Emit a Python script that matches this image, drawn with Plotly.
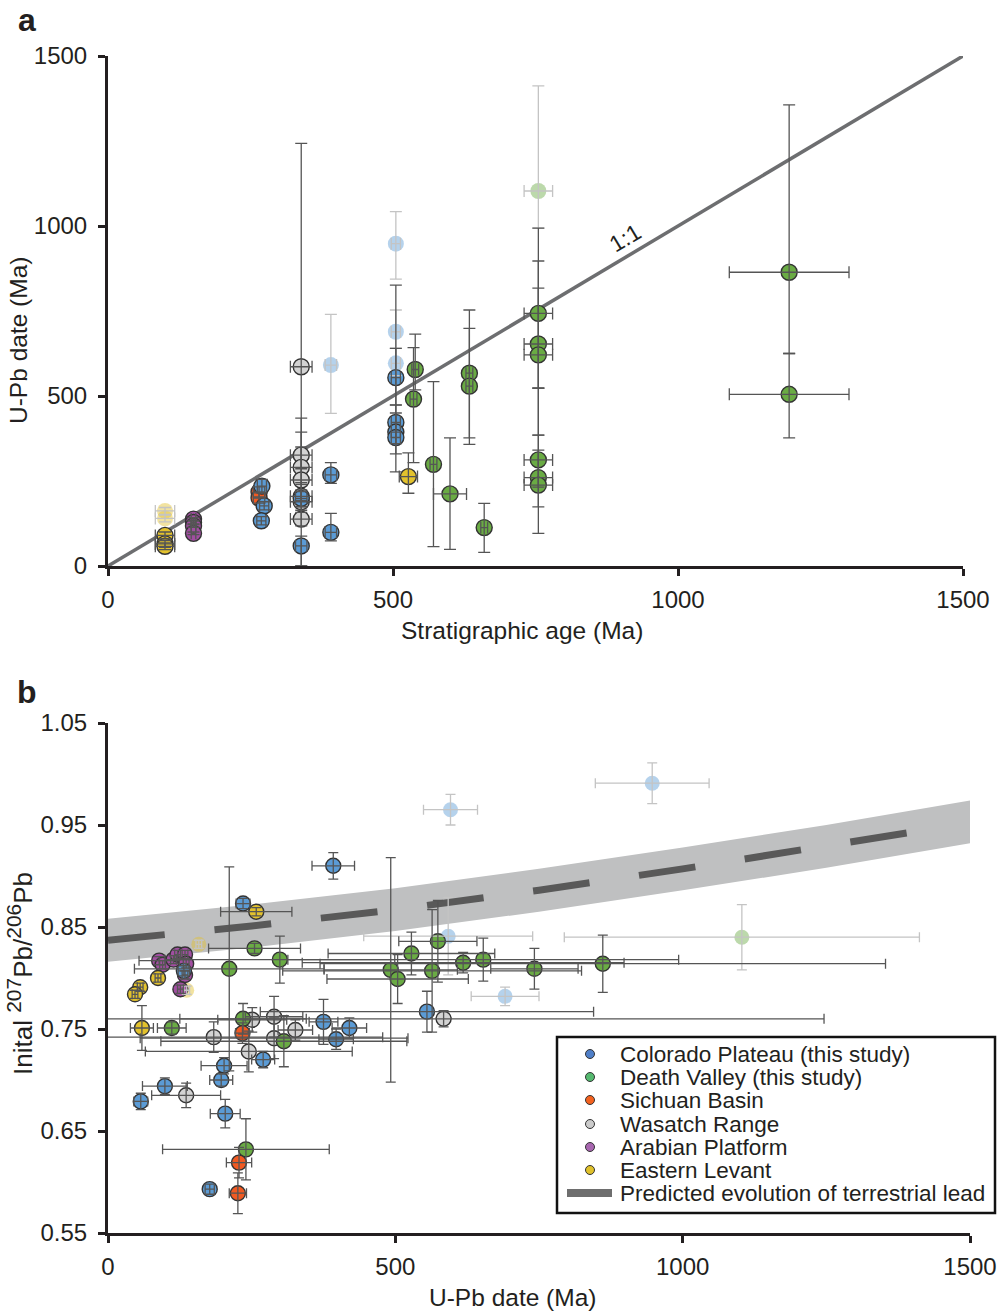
import plotly.graph_objects as go

# ---------------- panel a: stratigraphic age vs U-Pb date ----------------
ONE_X = [0, 1500]
ONE_Y = [0, 1500]

# Colorado Plateau (this study)
A_CP_X = [270, 274, 269, 339, 339, 391, 391, 505, 505, 505, 505]
A_CP_Y = [235, 177, 133, 199, 59, 268, 99, 554, 422, 394, 378]
A_CP_XE = [8, 8, 8, 10, 10, 10, 10, 8, 8, 8, 8]
A_CP_YP = [20, 12, 12, 25, 29, 36, 56, 272, 218, 56, 95]
A_CP_YM = [20, 12, 12, 25, 59, 25, 25, 80, 62, 64, 101]
A_CP_OUT_X = [391, 505, 505, 505]
A_CP_OUT_Y = [591, 948, 689, 596]
A_CP_OUT_XE = [10, 8, 8, 8]
A_CP_OUT_YP = [149, 94, 64, 44]
A_CP_OUT_YM = [142, 104, 49, 36]

# Death Valley (this study)
A_DV_X = [539, 536, 571, 600, 660, 634, 634, 755, 755, 755, 755, 755, 755, 1195, 1195]
A_DV_Y = [578, 491, 299, 212, 113, 567, 529, 743, 653, 621, 312, 260, 238, 864, 505]
A_DV_XE = [6, 6, 6, 29, 6, 6, 6, 25, 25, 25, 25, 25, 25, 105, 105]
A_DV_YP = [104, 151, 243, 165, 71, 186, 170, 251, 244, 196, 211, 125, 103, 492, 120]
A_DV_YM = [60, 187, 242, 163, 73, 190, 171, 220, 130, 236, 80, 86, 142, 239, 128]
A_DV_OUT_X = [755]
A_DV_OUT_Y = [1103]
A_DV_OUT_XE = [25]
A_DV_OUT_YP = [309]
A_DV_OUT_YM = [109]

# Sichuan Basin
A_SB_X = [265, 265]
A_SB_Y = [218, 200]
A_SB_XE = [10, 10]
A_SB_YP = [15, 15]
A_SB_YM = [15, 15]

# Wasatch Range
A_WR_X = [339, 339, 339, 339, 339, 339, 339]
A_WR_Y = [586, 326, 290, 253, 205, 189, 138]
A_WR_XE = [19, 19, 19, 19, 19, 19, 19]
A_WR_YP = [657, 109, 104, 97, 40, 30, 20]
A_WR_YM = [586, 40, 50, 60, 30, 25, 20]

# Arabian Platform
A_AP_X = [150, 150, 150, 150]
A_AP_Y = [138, 128, 118, 96]
A_AP_XE = [4, 4, 4, 4]
A_AP_YP = [4, 4, 4, 4]
A_AP_YM = [4, 4, 4, 4]

# Eastern Levant
A_EL_X = [100, 100, 100, 527]
A_EL_Y = [90, 65, 58, 263]
A_EL_XE = [17, 17, 17, 16]
A_EL_YP = [10, 10, 10, 70]
A_EL_YM = [10, 10, 10, 49]
A_EL_OUT_X = [100, 100]
A_EL_OUT_Y = [162, 140]
A_EL_OUT_XE = [17, 17]
A_EL_OUT_YP = [10, 10]
A_EL_OUT_YM = [10, 10]

# ---------------- panel b: U-Pb date vs initial 207Pb/206Pb ----------------
EVO_X = [0, 250, 500, 750, 1000, 1250, 1500]
EVO_Y = [0.837, 0.851, 0.867, 0.886, 0.907, 0.929, 0.953]
EVO_HALF = 0.021
DASH_X = [0, 250, 500, 750, 1000, 1250, 1410]
DASH_Y = [0.837, 0.851, 0.867, 0.886, 0.907, 0.929, 0.944]

B_CP_X = [392, 235, 132, 375, 397, 420, 270, 202, 197, 99, 57, 204, 177, 555]
B_CP_Y = [0.910, 0.873, 0.807, 0.757, 0.740, 0.751, 0.720, 0.714, 0.700, 0.694, 0.679, 0.667, 0.593, 0.767]
B_CP_XE = [37, 12, 10, 25, 30, 30, 20, 40, 20, 39, 12, 26, 8, 290]
B_CP_YE = [0.013, 0.005, 0.005, 0.022, 0.010, 0.010, 0.008, 0.008, 0.006, 0.008, 0.008, 0.014, 0.005, 0.020]
B_CP_OUT_X = [596, 947, 592, 691]
B_CP_OUT_Y = [0.965, 0.991, 0.841, 0.782]
B_CP_OUT_XE = [47, 99, 147, 59]
B_CP_OUT_YE = [0.015, 0.020, 0.038, 0.009]

B_DV_X = [255, 299, 211, 235, 111, 306, 240, 492, 504, 528, 574, 564, 618, 653, 742, 861]
B_DV_Y = [0.829, 0.818, 0.809, 0.760, 0.751, 0.738, 0.632, 0.808, 0.799, 0.824, 0.836, 0.807, 0.815, 0.818, 0.809, 0.814]
B_DV_XE = [80, 200, 165, 110, 25, 214, 145, 116, 123, 145, 68, 260, 280, 340, 76, 492]
B_DV_YE = [0.005, 0.023, 0.100, 0.015, 0.006, 0.025, 0.030, 0.110, 0.024, 0.021, 0.040, 0.060, 0.010, 0.021, 0.020, 0.028]
B_DV_OUT_X = [1103]
B_DV_OUT_Y = [0.840]
B_DV_OUT_XE = [309]
B_DV_OUT_YE = [0.032]

B_SB_X = [234, 228, 226]
B_SB_Y = [0.746, 0.619, 0.589]
B_SB_XE = [12, 22, 15]
B_SB_YE = [0.010, 0.015, 0.020]

B_WR_X = [184, 251, 289, 326, 289, 245, 136, 584]
B_WR_Y = [0.742, 0.759, 0.762, 0.749, 0.741, 0.728, 0.685, 0.760]
B_WR_XE = [294, 60, 50, 30, 233, 180, 60, 662]
B_WR_YE = [0.015, 0.012, 0.020, 0.010, 0.020, 0.020, 0.012, 0.008]

B_AP_X = [89, 95, 114, 121, 134, 136, 134, 126]
B_AP_Y = [0.817, 0.813, 0.818, 0.823, 0.823, 0.814, 0.803, 0.789]
B_AP_XE = [35, 5, 5, 5, 5, 5, 5, 5]
B_AP_YE = [0.004, 0.004, 0.004, 0.004, 0.004, 0.004, 0.004, 0.004]

B_EL_X = [258, 87, 56, 47, 59]
B_EL_Y = [0.865, 0.800, 0.791, 0.784, 0.751]
B_EL_XE = [62, 5, 5, 5, 20]
B_EL_YE = [0.004, 0.004, 0.004, 0.004, 0.022]
B_EL_OUT_X = [158, 137]
B_EL_OUT_Y = [0.833, 0.788]
B_EL_OUT_XE = [5, 5]
B_EL_OUT_YE = [0.004, 0.004]

LEGEND_NAMES = [
    "Colorado Plateau (this study)",
    "Death Valley (this study)",
    "Sichuan Basin",
    "Wasatch Range",
    "Arabian Platform",
    "Eastern Levant",
]
LEGEND_COLORS = ["#4f7fc8", "#55b96f", "#f4621f", "#cbcbcb", "#a866b0", "#e0c12b"]
EVO_NAME = "Predicted evolution of terrestrial lead"

BLUE = "#5b9bd5"
GREEN = "#6aab44"
ORANGE = "#f15a22"
GRAY = "#d3d3d3"
PURPLE = "#a14ea1"
YELLOW = "#e3c22d"

FONT = "Liberation Sans, Arial, sans-serif"
INK = "#231f20"
W, H = 1000, 1313

fig = go.Figure()
bars = []


def add_group(xa, ya, xs, ys, xe, yp, ym, color, size, faded=False, cap=6):
    fig.add_trace(go.Scatter(
        x=xs, y=ys, xaxis=xa, yaxis=ya, mode="markers", showlegend=False,
        marker=dict(size=size, color=color, opacity=0.45 if faded else 1,
                    line=dict(width=0 if faded else 1.4, color="#333333")),
    ))
    # error bars go in a separate trace so they sit on top of every marker
    ecol = "#c4c4c4" if faded else "#555555"
    bars.append(go.Scatter(
        x=xs, y=ys, xaxis=xa, yaxis=ya, mode="markers", showlegend=False,
        marker=dict(size=1, opacity=0), hoverinfo="skip",
        error_x=dict(type="data", array=xe, color=ecol, thickness=1.3, width=cap),
        error_y=dict(type="data", array=yp, arrayminus=ym, symmetric=False,
                     color=ecol, thickness=1.3, width=cap),
    ))


# panel a
fig.add_trace(go.Scatter(x=ONE_X, y=ONE_Y, xaxis="x", yaxis="y", mode="lines",
                         line=dict(color="#6d6e70", width=3.5), showlegend=False))
sa = 16
add_group("x", "y", A_EL_OUT_X, A_EL_OUT_Y, A_EL_OUT_XE, A_EL_OUT_YP, A_EL_OUT_YM, YELLOW, sa, True)
add_group("x", "y", A_CP_OUT_X, A_CP_OUT_Y, A_CP_OUT_XE, A_CP_OUT_YP, A_CP_OUT_YM, BLUE, sa, True)
add_group("x", "y", A_DV_OUT_X, A_DV_OUT_Y, A_DV_OUT_XE, A_DV_OUT_YP, A_DV_OUT_YM, GREEN, sa, True)
add_group("x", "y", A_EL_X, A_EL_Y, A_EL_XE, A_EL_YP, A_EL_YM, YELLOW, sa)
add_group("x", "y", A_AP_X, A_AP_Y, A_AP_XE, A_AP_YP, A_AP_YM, PURPLE, sa)
add_group("x", "y", A_WR_X, A_WR_Y, A_WR_XE, A_WR_YP, A_WR_YM, GRAY, sa)
add_group("x", "y", A_SB_X, A_SB_Y, A_SB_XE, A_SB_YP, A_SB_YM, ORANGE, sa)
add_group("x", "y", A_CP_X, A_CP_Y, A_CP_XE, A_CP_YP, A_CP_YM, BLUE, sa)
add_group("x", "y", A_DV_X, A_DV_Y, A_DV_XE, A_DV_YP, A_DV_YM, GREEN, sa)

# panel b: evolution band and dashed curve
fig.add_trace(go.Scatter(
    x=EVO_X + EVO_X[::-1],
    y=[v + EVO_HALF for v in EVO_Y] + [v - EVO_HALF for v in EVO_Y[::-1]],
    xaxis="x2", yaxis="y2", mode="lines", fill="toself", fillcolor="#bfc0c1",
    line=dict(width=0), showlegend=False, hoverinfo="skip"))
fig.add_trace(go.Scatter(x=DASH_X, y=DASH_Y, xaxis="x2", yaxis="y2", mode="lines",
                         line=dict(color="#595959", width=7, dash="57px,50px"),
                         showlegend=False))
sb = 15
add_group("x2", "y2", B_EL_OUT_X, B_EL_OUT_Y, B_EL_OUT_XE, B_EL_OUT_YE, B_EL_OUT_YE, YELLOW, sb, True, 5)
add_group("x2", "y2", B_CP_OUT_X, B_CP_OUT_Y, B_CP_OUT_XE, B_CP_OUT_YE, B_CP_OUT_YE, BLUE, sb, True, 5)
add_group("x2", "y2", B_DV_OUT_X, B_DV_OUT_Y, B_DV_OUT_XE, B_DV_OUT_YE, B_DV_OUT_YE, GREEN, sb, True, 5)
add_group("x2", "y2", B_WR_X, B_WR_Y, B_WR_XE, B_WR_YE, B_WR_YE, GRAY, sb, cap=5)
add_group("x2", "y2", B_AP_X, B_AP_Y, B_AP_XE, B_AP_YE, B_AP_YE, PURPLE, sb, cap=5)
add_group("x2", "y2", B_EL_X, B_EL_Y, B_EL_XE, B_EL_YE, B_EL_YE, YELLOW, sb, cap=5)
add_group("x2", "y2", B_DV_X, B_DV_Y, B_DV_XE, B_DV_YE, B_DV_YE, GREEN, sb, cap=5)
add_group("x2", "y2", B_SB_X, B_SB_Y, B_SB_XE, B_SB_YE, B_SB_YE, ORANGE, sb, cap=5)
add_group("x2", "y2", B_CP_X, B_CP_Y, B_CP_XE, B_CP_YE, B_CP_YE, BLUE, sb, cap=5)

for b in bars:
    fig.add_trace(b)


def px(x):
    return x / W


def py(y):
    return 1 - y / H


axis_common = dict(
    showgrid=False, zeroline=False, showline=True, linewidth=3, linecolor=INK,
    ticks="outside", ticklen=7, tickwidth=3, tickcolor=INK, automargin=False,
    tickfont=dict(family=FONT, size=24, color=INK),
)
xaxis_common = dict(axis_common, ticklabelstandoff=3)
yaxis_common = dict(axis_common, ticklabelstandoff=6)


def label(x, y, text, size=24.5, angle=0, xanchor="center", yanchor="middle"):
    return dict(x=px(x), y=py(y), xref="paper", yref="paper", text=text,
                showarrow=False, textangle=angle, xanchor=xanchor, yanchor=yanchor,
                font=dict(family=FONT, size=size, color=INK))


# every paper label is anchored so its box stays inside the page (no margin push)
annotations = [
    dict(x=907, y=965, xref="x", yref="y", text="1:1", showarrow=False, textangle=-31,
         font=dict(family=FONT, size=23, color=INK)),
    label(27, 0, "<b>a</b>", size=32, yanchor="top"),
    label(27, 692, "<b>b</b>", size=32),
    label(522, 630, "Stratigraphic age (Ma)"),
    label(18, 341, "U-Pb date (Ma)", angle=-90),
    label(512, 1313, "U-Pb date (Ma)", yanchor="bottom"),
    label(0, 974, "Inital <sup><span style='font-size:21px'>207</span></sup>Pb/"
                  "<sup><span style='font-size:21px'>206</span></sup>Pb",
          size=26, angle=-90, xanchor="left"),
]

# hand-built legend box (item spacing tighter than plotly's own legend)
shapes = [dict(type="rect", xref="paper", yref="paper", x0=px(557), x1=px(995),
               y0=py(1213), y1=py(1037), line=dict(color="#111111", width=2.5),
               fillcolor="white", layer="above")]
item_y = [1054, 1077, 1100, 1124, 1147, 1170, 1193]
for i, (name, col) in enumerate(zip(LEGEND_NAMES, LEGEND_COLORS)):
    yc = item_y[i]
    shapes.append(dict(type="circle", xref="paper", yref="paper", layer="above",
                       x0=px(585.5), x1=px(594.5), y0=py(yc + 4.5), y1=py(yc - 4.5),
                       fillcolor=col, line=dict(color="#333333", width=1)))
    annotations.append(label(618, yc, name, size=22.5, xanchor="left"))
shapes.append(dict(type="line", xref="paper", yref="paper", layer="above",
                   x0=px(567), x1=px(612), y0=py(item_y[6]), y1=py(item_y[6]),
                   line=dict(color="#6e6e6e", width=8)))
annotations.append(label(618, item_y[6], EVO_NAME, size=22.5, xanchor="left"))

fig.update_layout(
    width=W, height=H, margin=dict(l=0, r=0, t=0, b=0, autoexpand=False),
    paper_bgcolor="white", plot_bgcolor="white", showlegend=False,
    font=dict(family=FONT, color=INK),
    xaxis=dict(domain=[0.108, 0.963], range=[0, 1500], dtick=500, anchor="y", **xaxis_common),
    yaxis=dict(domain=[py(566), py(56)], range=[0, 1500], dtick=500, anchor="x", **yaxis_common),
    xaxis2=dict(domain=[0.108, 0.970], range=[0, 1500], dtick=500, anchor="y2", **xaxis_common),
    yaxis2=dict(domain=[py(1233), py(723)], range=[0.55, 1.05], tick0=0.55, dtick=0.1,
                tickformat=".2f", anchor="x2", **yaxis_common),
    annotations=annotations,
    shapes=shapes,
)

# the page's default 8px body margin would push the 1000x1313 figure past the window
fig.write_html("out.html", config={"displayModeBar": False},
               post_script="document.body.style.margin='0';")
